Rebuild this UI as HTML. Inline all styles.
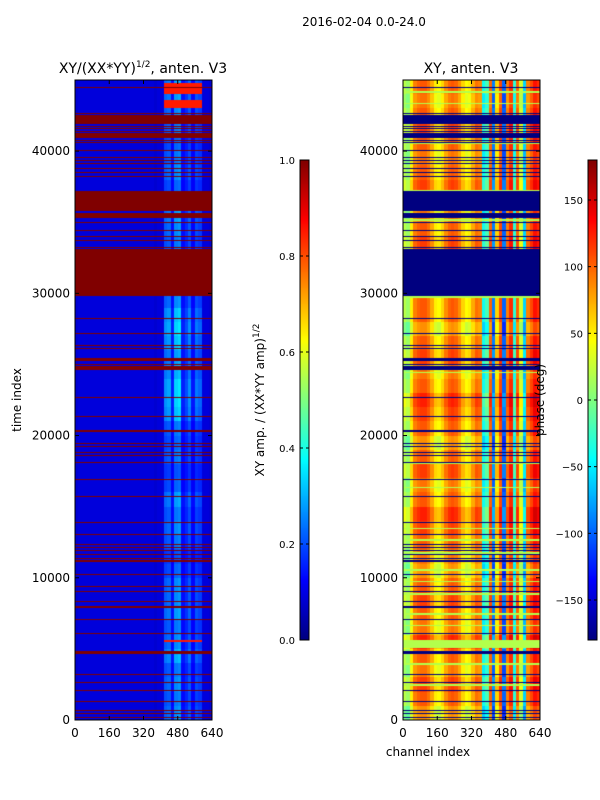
<!DOCTYPE html>
<html><head><meta charset="utf-8"><style>
body{margin:0;background:#fff;}
#wrap{position:relative;width:600px;height:800px;overflow:hidden;font-family:"Liberation Sans","DejaVu Sans",sans-serif;}
canvas{position:absolute;}
svg{position:absolute;left:0;top:0;}
text{font-family:"DejaVu Sans","Liberation Sans",sans-serif;font-size:12px;fill:#000;}
</style></head><body>
<div id="wrap">
<canvas id="hm1" width="137" height="640" style="left:75px;top:80px"></canvas>
<canvas id="hm2" width="137" height="640" style="left:403px;top:80px"></canvas>
<canvas id="cb1" width="9" height="480" style="left:300px;top:160px"></canvas>
<canvas id="cb2" width="9" height="480" style="left:588px;top:160px"></canvas>
<svg id="ov" width="600" height="800">
<text x="364" y="26" text-anchor="middle">2016-02-04 0.0-24.0</text>
<text x="143" y="73" text-anchor="middle" style="font-size:14px">XY/(XX*YY)<tspan dy="-6" style="font-size:9px">1/2</tspan><tspan dy="6">, anten. V3</tspan></text>
<text x="471" y="73" text-anchor="middle" style="font-size:14px">XY, anten. V3</text>
<text transform="translate(21,400) rotate(-90)" text-anchor="middle">time index</text>
<text x="428" y="756" text-anchor="middle">channel index</text>
<text transform="translate(264,400) rotate(-90)" text-anchor="middle">XY amp. / (XX*YY amp)<tspan dy="-5" style="font-size:9px">1/2</tspan></text>
<text transform="translate(544,400) rotate(-90)" text-anchor="middle">phase (deg)</text>
<g id="axes"></g>
</svg>
</div>
<script>
// ---- data ----
var yTicks=[0,10000,20000,30000,40000];
var xTicks=[0,160,320,480,640];
var cb1Ticks=[0.0,0.2,0.4,0.6,0.8,1.0];
var cb2Ticks=[-150,-100,-50,0,50,100,150];
var tMax=45000, chMax=640;
var flagStart=[44450,42620,41900,41710,41560,41350,40920,40730,40590,40030,39540,39320,39110,38760,38480,38200,35790,35300,34960,34400,33980,33700,33210,29810,28210,27160,26320,26100,25240,24980,24610,22660,21320,20250,19430,19210,18790,18580,18090,16890,15700,13870,13030,12320,12110,11900,11620,11340,11110,10220,9370,9020,8320,7870,7050,6070,4640,3180,2620,2060,1290,650,440,160];
var flagEnd=  [44530,42700,42530,41790,41640,41430,41270,40810,40670,40110,39620,39400,39190,38840,38560,38280,37190,35650,35040,34480,34060,33780,33290,33120,28290,27240,26400,26180,25450,25060,24890,22740,21400,20390,19510,19290,18870,18660,18170,16970,15780,13950,13110,12400,12190,11980,11700,11420,11250,10300,9450,9100,8400,8010,7130,6150,4850,3260,2700,2140,1370,730,520,240];
var ampProfile=[0.08,0.09,0.1,0.11,0.12,0.11,0.1,0.1,0.11,0.12,0.12,0.11,0.1,0.1,0.11,0.12,0.12,0.11,0.1,0.1,0.11,0.1,0.1,0.08,0.1,0.12,0.3,0.32,0.2,0.36,0.38,0.2,0.24,0.3,0.19,0.28,0.26,0.14,0.1,0.08];
var activity=[0.9,0.8,0.9,0.8,1.1,0.9,0.8,1.0,0.9,0.9,0.7,0.6,0.8,0.9,0.8,1.0,0.7,0.6,0.8,0.7,0.8,1.2,1.3,1.3,1.1,1.0,1.2,1.3,1.2,0.9,1,1,1,0.8,0.9,1.0,0.7,0.7,0.9,0.8,0.7,0.8,0.9,1.0,1.0];
var hotStart=[43000,44000,5500];
var hotEnd=[43600,44800,5620];
var phaseProfile=[20,10,50,90,100,105,105,95,75,50,45,60,85,100,105,100,85,60,45,50,75,95,90,-40,-20,100,-90,60,110,-100,90,120,-30,100,30,-60,90,110,130,120];
var phaseShift=[-20,0,10,-10,0,20,-10,0,10,0,-20,-10,0,10,20,0,-10,10,0,-20,0,10,20,0,-10,10,0,-20,0,0,0,0,0,10,0,-10,0,10,0,-10,0,10,0,-10,0];
var greenStart=[2400,3900,5060,6600,7400,8800,9700,10500,11700,12600,13400,16300,18000,24400,29700,35100,37200,40500,43300,44100];
var greenEnd=  [2500,4000,5620,6700,7500,8900,9800,10600,11800,12700,13500,16400,18100,24500,29800,35200,37300,40600,43400,44200];

function clamp(v){return Math.max(0,Math.min(1,v));}
function jet(x){x=clamp(x);return [clamp(1.5-Math.abs(4*x-3)),clamp(1.5-Math.abs(4*x-2)),clamp(1.5-Math.abs(4*x-1))].map(function(v){return Math.round(v*255);});}
function inRanges(t,s,e){for(var i=0;i<s.length;i++){if(t>=s[i]&&t<=e[i])return true;}return false;}
function rowTime(py){return (640-py-0.5)*tMax/640;}

function drawHeat(id,fn){
  var c=document.getElementById(id),ctx=c.getContext('2d'),img=ctx.createImageData(137,640);
  for(var py=0;py<640;py++){var t=rowTime(py);
    for(var px=0;px<137;px++){var ch=(px+0.5)*chMax/137;var v=fn(t,ch);var col=jet(v);var k=(py*137+px)*4;
      img.data[k]=col[0];img.data[k+1]=col[1];img.data[k+2]=col[2];img.data[k+3]=255;}}
  ctx.putImageData(img,0,0);
}
drawHeat('hm1',function(t,ch){
  if(inRanges(t,flagStart,flagEnd))return 1.0;
  var b=Math.min(39,Math.floor(ch/16)),base=ampProfile[b];
  var blk=Math.min(44,Math.floor(t/1000));
  var ex=Math.max(0,base-0.14)*activity[blk];
  if(inRanges(t,hotStart,hotEnd)&&ex>0)return 0.85;
  return Math.min(0.09,base)+ex*0.85;
});
drawHeat('hm2',function(t,ch){
  if(inRanges(t,flagStart,flagEnd))return 0.0;
  if(inRanges(t,greenStart,greenEnd))return 0.5+0.05;
  var b=Math.min(39,Math.floor(ch/16));
  var blk=Math.min(44,Math.floor(t/1000));
  var p=phaseProfile[b]+phaseShift[blk];
  return (p+180)/360;
});
function drawCb(id){var c=document.getElementById(id),ctx=c.getContext('2d');
  for(var y=0;y<480;y++){var col=jet(1-(y+0.5)/480);ctx.fillStyle='rgb('+col.join(',')+')';ctx.fillRect(0,y,9,1);}}
drawCb('cb1');drawCb('cb2');

var NS='http://www.w3.org/2000/svg',g=document.getElementById('axes');
function el(tag,attrs){var e=document.createElementNS(NS,tag);for(var k in attrs)e.setAttribute(k,attrs[k]);g.appendChild(e);return e;}
function yScale(t){return 720-t*640/tMax;}
function xScale(left,ch){return left+ch*137/chMax;}
[75,403].forEach(function(left,pi){
  var fr=el('rect',{x:left,y:80,width:137,height:640,fill:'none',stroke:'#000','stroke-width':1});
  
  
  yTicks.forEach(function(t){var y=yScale(t);
    el('line',{x1:left,x2:left+4,y1:y,y2:y,stroke:'#000'});el('line',{x1:left+137,x2:left+133,y1:y,y2:y,stroke:'#000'});
    var tx=el('text',{x:left-5,y:y+4,'text-anchor':'end'});tx.textContent=t;
    
    });
  xTicks.forEach(function(c){var x=xScale(left,c);
    el('line',{x1:x,x2:x,y1:720,y2:716,stroke:'#000'});el('line',{x1:x,x2:x,y1:80,y2:84,stroke:'#000'});
    var tx=el('text',{x:x,y:737,'text-anchor':'middle'});tx.textContent=c;
    
    });
});
function cbAxis(left,ticks,lo,hi,dec){
  el('rect',{x:left,y:160,width:9,height:480,fill:'none',stroke:'#000'});
  ticks.forEach(function(v){var y=640-(v-lo)/(hi-lo)*480;
    el('line',{x1:left,x2:left+3,y1:y,y2:y,stroke:'#000'});el('line',{x1:left+9,x2:left+6,y1:y,y2:y,stroke:'#000'});
    var tx=el('text',{x:left-5,y:y+4,'text-anchor':'end',style:'font-size:10px'});tx.textContent=dec?v.toFixed(1):String(v).replace('-','\u2212');
    
    });
}
cbAxis(300,cb1Ticks,0,1,true);
cbAxis(588,cb2Ticks,-180,180,false);
</script>
</body></html>
